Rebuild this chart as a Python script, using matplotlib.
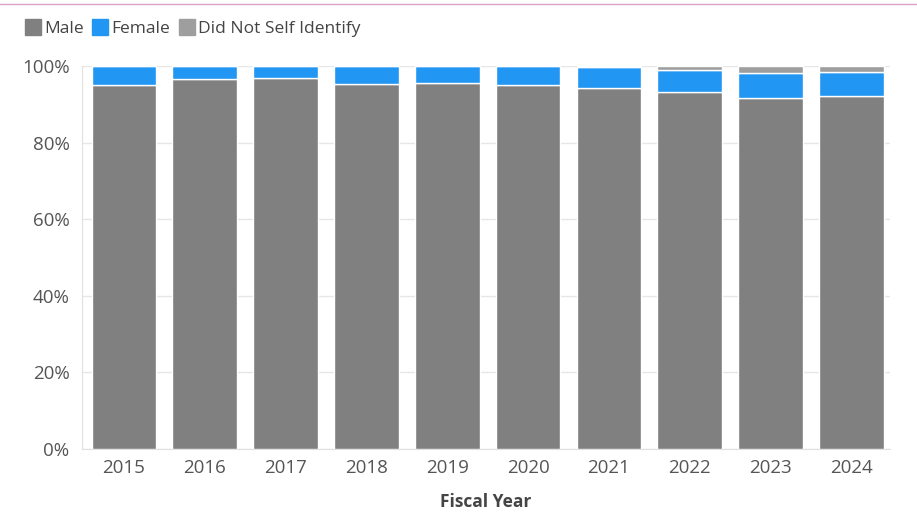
import numpy as np
import matplotlib.pyplot as plt
from matplotlib.lines import Line2D

plt.rcParams['font.family'] = ['Open Sans', 'DejaVu Sans']

years = ['2015', '2016', '2017', '2018', '2019', '2020', '2021', '2022', '2023', '2024']
male = [95.0, 96.5, 96.8, 95.4, 95.6, 95.0, 94.3, 93.3, 91.6, 92.1]
dnsi = [0.0, 0.0, 0.0, 0.0, 0.0, 0.0, 0.2, 1.1, 1.9, 1.6]
female = [100 - m - d for m, d in zip(male, dnsi)]

male_c = '#808080'
female_c = '#2196f3'
dnsi_c = '#9e9e9e'

fig = plt.figure(figsize=(9.17, 5.22), dpi=100)
ax = fig.add_axes([0.0894, 0.1398, 0.8812, 0.7338])

x = np.arange(len(years))
w = 0.8
ax.bar(x, male, w, color=male_c, edgecolor='white', linewidth=1, label='Male', zorder=3)
ax.bar(x, female, w, bottom=male, color=female_c, edgecolor='white', linewidth=1, label='Female', zorder=3)
ax.bar(x, dnsi, w, bottom=np.array(male) + np.array(female), color=dnsi_c, edgecolor='white',
       linewidth=1, label='Did Not Self Identify', zorder=3)

ax.set_xlim(-0.52, 9.48)
ax.set_ylim(0, 100)
ax.set_yticks([0, 20, 40, 60, 80, 100])
ax.set_yticklabels(['0%', '20%', '40%', '60%', '80%', '100%'])
ax.set_xticks(x)
ax.set_xticklabels(years)
ax.tick_params(axis='both', labelsize=13.5, colors='#555555', length=0)
ax.tick_params(axis='y', pad=9)
ax.tick_params(axis='x', pad=7)
ax.grid(axis='y', color='#e6e6e6', linewidth=1, zorder=0)
for s in ['top', 'right']:
    ax.spines[s].set_visible(False)
ax.spines['left'].set_color('#e0e0e0')
ax.spines['bottom'].set_color('#e0e0e0')
ax.set_xlabel('Fiscal Year', fontsize=12.5, fontweight='bold', color='#444444', labelpad=12)

# legend markers: slightly tall rounded squares like the original
handles = [Line2D([], [], marker='s', linestyle='', markersize=12, color=c)
           for c in [male_c, female_c, dnsi_c]]
fig.legend(handles, ['Male', 'Female', 'Did Not Self Identify'], loc='upper left',
           bbox_to_anchor=(0.012, 0.99), ncol=3, frameon=False, fontsize=12.5,
           handlelength=0.7, handletextpad=0.3, columnspacing=0.6, labelcolor='#444444')

fig.add_artist(Line2D([0, 1], [0.992, 0.992], color='#d8a3c4', linewidth=1))

fig.savefig('out.png', dpi=100)
